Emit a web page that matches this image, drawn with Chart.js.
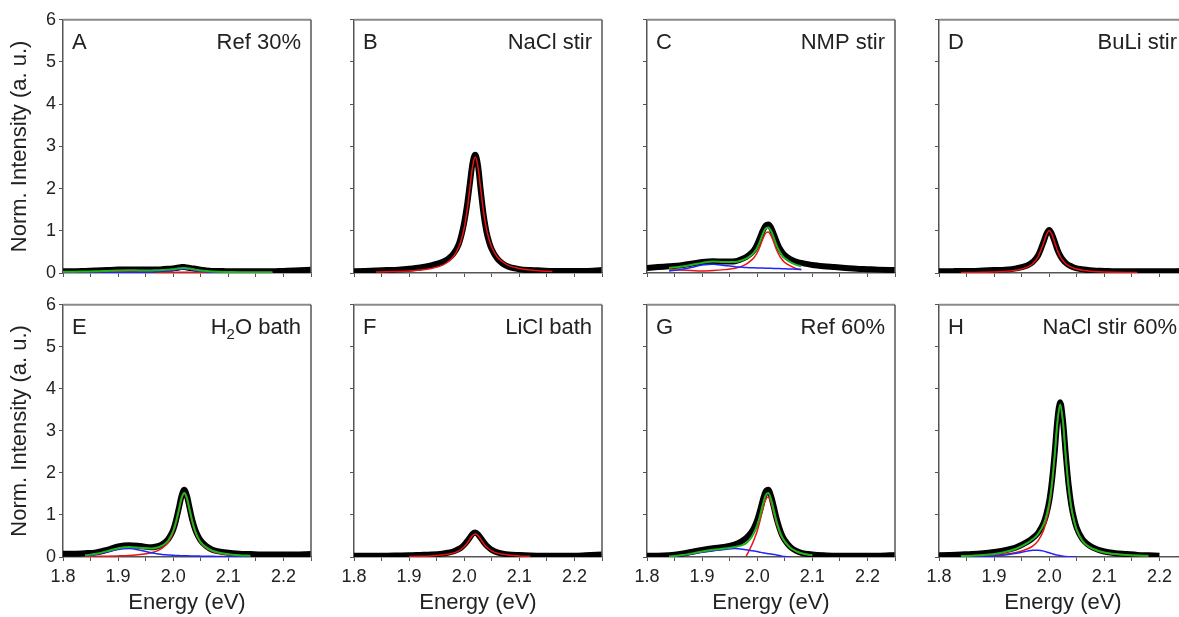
<!DOCTYPE html>
<html>
<head>
<meta charset="utf-8">
<script src="https://cdn.jsdelivr.net/npm/chart.js"></script>
<style>
  html, body { margin: 0; padding: 0; background: #fff; overflow: hidden; width: 1179px; height: 617px; }
  #page { position: relative; width: 1179px; height: 617px; overflow: hidden; }
  #page canvas { position: absolute; }
</style>
</head>
<body>
<div id="page"></div>
<script>
const n = null;

// energy grid (eV), finer around the main peak
const energy = [1.80, 1.82, 1.84, 1.86, 1.88, 1.90, 1.92, 1.94, 1.96,
                1.97, 1.98, 1.99, 1.995, 2.00, 2.005, 2.01, 2.015,
                2.02, 2.025, 2.03, 2.035, 2.04, 2.045, 2.05,
                2.06, 2.07, 2.08, 2.10, 2.12, 2.14, 2.16, 2.18, 2.20, 2.22, 2.25];

const xTickLabels = ['1.8', '1.9', '2.0', '2.1', '2.2'];
const yTickLabels = ['0', '1', '2', '3', '4', '5', '6'];

// A - Ref 30%
const dataA  = [0.04,0.04,0.05,0.06,0.07,0.08,0.08,0.08,0.08, 0.08,0.09,0.10,0.10,0.11,0.12,0.13,0.14, 0.14,0.13,0.12,0.11,0.10,0.09,0.08, 0.06,0.05,0.05,0.04,0.04,0.04,0.04,0.04,0.05,0.06,0.08];
const greenA = [0.03,0.03,0.035,0.04,0.05,0.06,0.065,0.06,0.06, 0.065,0.07,0.08,0.085,0.09,0.10,0.11,0.115, 0.12,0.115,0.105,0.095,0.08,0.07,0.06, 0.045,0.035,0.03,0.025,0.02,0.02,0.02,0.02,n,n,n];
const redA   = [0.02,0.02,0.025,0.03,0.035,0.04,0.04,0.035,0.03, 0.025,0.02,0.02,0.02,0.02,0.02,0.02,0.02, 0.02,0.02,0.02,0.02,0.02,0.015,0.015, 0.015,0.01,0.01,0.01,0.01,0.01,0.01,0.01,n,n,n];
const blueA  = [0.0,0.0,0.0,0.0,0.005,0.01,0.015,0.02,0.025, 0.035,0.045,0.055,0.06,0.065,0.075,0.085,0.09, 0.095,0.09,0.08,0.07,0.06,0.05,0.04, 0.03,0.02,0.015,0.01,0.01,0.005,0.005,0.005,n,n,n];

// B - NaCl stir
const dataB  = [0.04,0.05,0.06,0.07,0.08,0.10,0.13,0.18,0.26, 0.33,0.45,0.68,0.90,1.20,1.60,2.10,2.60, 2.80,2.55,1.95,1.40,1.00,0.74,0.56, 0.34,0.22,0.15,0.09,0.07,0.06,0.05,0.05,0.05,0.05,0.07];
const redB   = [n,n,0.022,0.027,0.036,0.048,0.069,0.106,0.18, 0.26,0.38,0.61,0.80,1.07,1.46,1.98,2.51, 2.75,2.51,1.98,1.46,1.07,0.80,0.61, 0.38,0.26,0.18,0.106,0.069,0.048,0.036,n,n,n,n];

// C - NMP stir
const dataC  = [0.12,0.14,0.16,0.18,0.22,0.26,0.28,0.27,0.28, 0.32,0.38,0.48,0.56,0.68,0.84,1.00,1.12, 1.15,1.08,0.92,0.75,0.60,0.50,0.42, 0.33,0.27,0.24,0.19,0.16,0.14,0.12,0.10,0.09,0.08,0.07];
const greenC = [n,n,0.12,0.15,0.19,0.24,0.27,0.26,0.26, 0.29,0.34,0.43,0.50,0.60,0.75,0.92,1.05, 1.08,1.00,0.84,0.66,0.52,0.42,0.35, 0.26,0.20,0.16,n,n,n,n,n,n,n,n];
const blueC  = [n,n,0.05,0.08,0.13,0.19,0.21,0.18,0.15, 0.14,0.13,0.125,0.122,0.12,0.118,0.116,0.114, 0.112,0.11,0.108,0.106,0.104,0.102,0.10, 0.095,0.09,0.085,n,n,n,n,n,n,n,n];
const redC   = [n,n,0.07,0.07,0.06,0.05,0.06,0.08,0.11, 0.15,0.21,0.31,0.38,0.48,0.63,0.80,0.94, 0.97,0.89,0.73,0.55,0.42,0.32,0.25, 0.17,0.11,0.08,n,n,n,n,n,n,n,n];

// D - BuLi stir
const dataD  = [0.04,0.04,0.05,0.05,0.06,0.07,0.08,0.11,0.18, 0.26,0.42,0.75,0.93,1.02,0.92,0.74,0.55, 0.41,0.31,0.24,0.19,0.16,0.13,0.11, 0.09,0.07,0.06,0.05,0.04,0.04,0.04,0.04,0.04,0.04,0.05];
const redD   = [n,n,0.01,0.013,0.018,0.025,0.038,0.066,0.138, 0.22,0.39,0.72,0.91,1.00,0.91,0.72,0.53, 0.39,0.29,0.22,0.173,0.138,0.112,0.093, 0.066,0.05,0.038,0.025,0.018,0.013,0.01,n,n,n,n];

// E - H2O bath
const dataE  = [0.08,0.08,0.09,0.11,0.17,0.25,0.28,0.26,0.23, 0.25,0.30,0.41,0.51,0.65,0.87,1.15,1.45, 1.60,1.45,1.15,0.86,0.65,0.50,0.39, 0.26,0.18,0.14,0.10,0.08,0.07,0.06,0.06,0.06,0.06,0.07];
const greenE = [n,n,0.04,0.075,0.14,0.21,0.24,0.22,0.20, 0.22,0.27,0.38,0.485,0.625,0.84,1.11,1.40, 1.53,1.40,1.11,0.83,0.61,0.46,0.35, 0.23,0.155,0.114,0.068,0.044,0.031,n,n,n,n,n];
const blueE  = [n,n,0.03,0.06,0.12,0.18,0.20,0.16,0.10, 0.08,0.06,0.05,0.045,0.04,0.037,0.034,0.032, 0.03,0.028,0.026,0.025,0.024,0.022,0.02, 0.018,0.016,0.014,0.01,0.007,0.005,n,n,n,n,n];
const redE   = [n,n,0.012,0.015,0.019,0.026,0.037,0.058,0.10, 0.14,0.21,0.33,0.44,0.585,0.80,1.08,1.37, 1.50,1.37,1.08,0.80,0.585,0.44,0.33, 0.21,0.14,0.10,0.058,0.037,0.026,n,n,n,n,n];

// F - LiCl bath
const dataF  = [0.03,0.03,0.03,0.03,0.035,0.04,0.05,0.06,0.08, 0.10,0.13,0.19,0.23,0.29,0.37,0.46,0.55, 0.58,0.54,0.45,0.36,0.28,0.22,0.17, 0.11,0.08,0.06,0.045,0.035,0.03,0.03,0.03,0.03,0.04,0.06];
const redF   = [n,n,n,n,n,0.012,0.017,0.026,0.046, 0.063,0.092,0.146,0.19,0.246,0.325,0.42,0.51, 0.55,0.51,0.42,0.325,0.246,0.19,0.146, 0.092,0.063,0.046,0.026,0.017,n,n,n,n,n,n];

// G - Ref 60%
const dataG  = [0.03,0.03,0.04,0.07,0.12,0.17,0.21,0.24,0.30, 0.36,0.45,0.60,0.72,0.88,1.10,1.35,1.55, 1.60,1.45,1.20,0.92,0.70,0.52,0.40, 0.24,0.15,0.10,0.06,0.04,0.03,0.03,0.03,0.03,0.03,0.05];
const greenG = [n,n,0.01,0.04,0.08,0.13,0.17,0.20,0.24, 0.27,0.33,0.48,0.60,0.76,0.98,1.24,1.46, 1.52,1.38,1.12,0.85,0.64,0.48,0.37, 0.22,0.14,0.09,0.04,n,n,n,n,n,n,n];
const blueG  = [n,n,0.01,0.03,0.07,0.11,0.15,0.18,0.20, 0.19,0.17,0.15,0.14,0.13,0.115,0.10,0.09, 0.08,0.07,0.06,0.05,0.035,0.02,0.01, 0.0,n,n,n,n,n,n,n,n,n,n];
const redG   = [n,n,n,n,n,n,n,n,n, n,0.02,0.28,0.44,0.62,0.86,1.13,1.36, 1.43,1.30,1.05,0.80,0.60,0.46,0.36, 0.22,0.14,0.09,0.04,n,n,n,n,n,n,n];

// H - NaCl stir 60%
const dataH  = [0.04,0.05,0.06,0.07,0.09,0.12,0.16,0.23,0.36, 0.45,0.58,0.82,1.03,1.33,1.82,2.50,3.30, 3.68,3.25,2.45,1.74,1.24,0.92,0.69, 0.43,0.30,0.22,0.13,0.09,0.07,0.05,0.04,0.03,n,n];
const greenH = [n,n,0.022,0.032,0.046,0.073,0.119,0.197,0.33, 0.42,0.55,0.78,0.99,1.28,1.76,2.44,3.235, 3.63,3.21,2.39,1.69,1.18,0.87,0.64, 0.39,0.26,0.19,0.107,0.069,0.048,0.036,0.027,n,n,n];
const blueH  = [n,n,0.0,0.005,0.01,0.025,0.05,0.09,0.14, 0.16,0.16,0.14,0.12,0.10,0.08,0.06,0.045, 0.03,0.02,0.012,0.006,0.003,0.001,0.0, n,n,n,n,n,n,n,n,n,n,n];
const redH   = [n,n,0.022,0.027,0.036,0.048,0.069,0.107,0.19, 0.26,0.39,0.64,0.87,1.18,1.68,2.38,3.19, 3.60,3.19,2.38,1.68,1.18,0.87,0.64, 0.39,0.26,0.19,0.107,0.069,0.048,0.036,0.027,n,n,n];

const letters = ['A', 'B', 'C', 'D', 'E', 'F', 'G', 'H'];
const names = ['Ref 30%', 'NaCl stir', 'NMP stir', 'BuLi stir', 'H_2_O bath', 'LiCl bath', 'Ref 60%', 'NaCl stir 60%'];

const panels = [
    { data: dataA, green: greenA, blue: blueA, red: redA },
    { data: dataB, red: redB },
    { data: dataC, green: greenC, blue: blueC, red: redC },
    { data: dataD, red: redD },
    { data: dataE, green: greenE, blue: blueE, red: redE },
    { data: dataF, red: redF },
    { data: dataG, green: greenG, blue: blueG, red: redG },
    { data: dataH, green: greenH, blue: blueH, red: redH },
];

// layout of the 2x4 grid (pixels)
const colLeft = [63, 354, 647, 939];
const panelW = 247;
const rowTop = [20, 305];
const rowH = [253, 252];

const FONT = '"Liberation Sans", Arial, Helvetica, sans-serif';
Chart.defaults.font.family = FONT;

const toPoints = (ys) => energy.map((x, i) => ({ x: x, y: ys[i] }));

// box (top/right edges) plus panel letter and sample name
const panelFrame = {
    id: 'panelFrame',
    afterDraw(chart, args, opts) {
        const { ctx, chartArea: a } = chart;
        ctx.save();
        ctx.strokeStyle = '#8a8a8a';
        ctx.lineWidth = 2;
        ctx.beginPath();
        ctx.moveTo(a.left, a.top);
        ctx.lineTo(a.right, a.top);
        ctx.stroke();
        ctx.strokeStyle = '#555';
        ctx.lineWidth = 1.5;
        ctx.beginPath();
        ctx.moveTo(a.right, a.top);
        ctx.lineTo(a.right, a.bottom);
        ctx.stroke();

        const base = a.top + 29;
        ctx.fillStyle = '#222';
        ctx.textBaseline = 'alphabetic';
        ctx.textAlign = 'left';
        ctx.font = '22px ' + FONT;
        ctx.fillText(opts.letter, a.left + 9, base);

        // name, right aligned; segments between "_" are subscripts
        const parts = opts.name.split('_');
        let x = a.right - 10;
        for (let k = parts.length - 1; k >= 0; k--) {
            const sub = k % 2 === 1;
            ctx.font = (sub ? '15px ' : '22px ') + FONT;
            x -= ctx.measureText(parts[k]).width;
            ctx.fillText(parts[k], x, base + (sub ? 5 : 0));
        }
        ctx.restore();
    }
};

const page = document.getElementById('page');

panels.forEach((p, i) => {
    const c = i % 4;
    const r = Math.floor(i / 4);
    const yW = c === 0 ? 63 : 24;
    const padTop = 14;
    const padRight = 6;
    const xH = r === 1 ? 617 - (rowTop[r] + rowH[r]) : 14;

    const canvas = document.createElement('canvas');
    canvas.width = yW + panelW + padRight;
    canvas.height = padTop + rowH[r] + xH;
    canvas.style.left = (colLeft[c] - yW) + 'px';
    canvas.style.top = (rowTop[r] - padTop) + 'px';
    page.appendChild(canvas);

    const line = (ys, color, width) => ({
        data: toPoints(ys),
        borderColor: color,
        borderWidth: width,
        pointRadius: 0,
        fill: false,
        spanGaps: false,
        cubicInterpolationMode: 'monotone',
    });

    // first dataset is drawn on top
    const datasets = [];
    if (p.green) datasets.push(line(p.green, '#1fb51f', 2));
    if (p.blue) datasets.push(line(p.blue, '#2222ff', 1.5));
    if (p.red) datasets.push(line(p.red, '#ee1111', 1.5));
    datasets.push(line(p.data, '#000', 6));

    new Chart(canvas, {
        type: 'line',
        data: { datasets: datasets },
        options: {
            responsive: false,
            animation: false,
            events: [],
            layout: { padding: 0 },
            plugins: {
                legend: { display: false },
                tooltip: { enabled: false },
                panelFrame: { letter: letters[i], name: names[i] },
            },
            scales: {
                x: {
                    type: 'linear',
                    min: 1.8,
                    max: 2.25,
                    afterFit: (s) => { s.height = xH; },
                    ticks: {
                        stepSize: 0.05,
                        autoSkip: false,
                        maxRotation: 0,
                        padding: 5,
                        color: '#222',
                        font: { size: 18 },
                        callback: (v) => {
                            if (r === 0) return '';
                            const lbl = Number(v).toFixed(1);
                            return (Math.abs(v * 10 - Math.round(v * 10)) < 1e-6 && xTickLabels.includes(lbl)) ? lbl : '';
                        },
                    },
                    grid: { drawOnChartArea: false, drawTicks: true, tickLength: 4, tickColor: '#555' },
                    border: { color: '#555', width: 1.5 },
                    title: {
                        display: r === 1,
                        text: 'Energy (eV)',
                        color: '#222',
                        font: { size: 22 },
                        padding: { top: 0, bottom: 1 },
                    },
                },
                y: {
                    min: 0,
                    max: 6,
                    afterFit: (s) => { s.width = yW; },
                    ticks: {
                        stepSize: 0.5,
                        padding: 3,
                        color: '#222',
                        font: { size: 18 },
                        callback: (v) => {
                            if (c !== 0) return '';
                            const lbl = String(v);
                            return yTickLabels.includes(lbl) ? lbl : '';
                        },
                    },
                    grid: { drawOnChartArea: false, drawTicks: true, tickLength: 4, tickColor: '#555' },
                    border: { color: '#555', width: 1.5 },
                    title: {
                        display: c === 0,
                        text: 'Norm. Intensity (a. u.)',
                        color: '#222',
                        font: { size: 22 },
                        padding: { top: 7, bottom: 0 },
                    },
                },
            },
        },
        plugins: [panelFrame],
    });
});
</script>
</body>
</html>
